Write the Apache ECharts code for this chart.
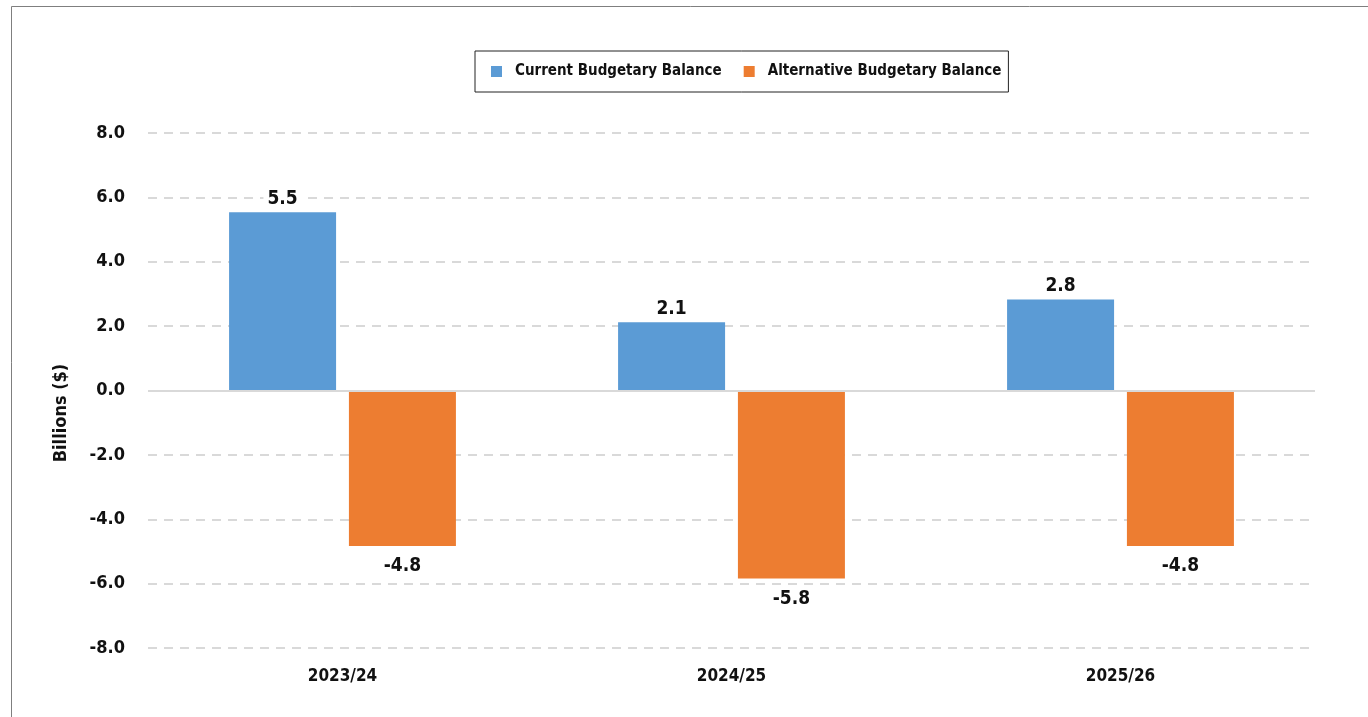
<!DOCTYPE html>
<html>
<head>
<meta charset="utf-8">
<script src="https://cdn.jsdelivr.net/npm/echarts@6/dist/echarts.min.js"></script>
<style>
  html, body { margin: 0; padding: 0; background: #fff; }
  #chart { width: 1368px; height: 717px; }
</style>
</head>
<body>
<div id="chart"></div>
<script>
const categories = ["2023/24", "2024/25", "2025/26"];
const currentBalance = [5.54, 2.12, 2.83];
const alternativeBalance = [-4.83, -5.84, -4.83];
const seriesNames = ["Current Budgetary Balance", "Alternative Budgetary Balance"];

const font = "'Liberation Sans Narrow', 'DejaVu Sans Condensed', sans-serif";

const chart = echarts.init(document.getElementById("chart"));

const labelStyle = {
  show: true,
  fontFamily: font,
  fontWeight: "bold",
  fontSize: 19,
  color: "#111",
  backgroundColor: "#fff",
  padding: [2, 4],
  formatter: (p) => p.value.toFixed(1),
};

chart.setOption({
  animation: false,
  textStyle: { fontFamily: font },
  graphic: [
    {
      type: "rect",
      shape: { x: 11.5, y: 6.5, width: 1400, height: 800 },
      style: { fill: "none", stroke: "#7f7f7f", lineWidth: 1 },
      silent: true,
    },
  ],
  legend: {
    top: 51,
    left: 475,
    data: seriesNames,
    icon: "rect",
    itemWidth: 11,
    itemHeight: 11,
    itemGap: 22,
    borderColor: "#222",
    borderWidth: 1,
    padding: [13, 7, 13, 16],
    textStyle: {
      fontFamily: font,
      fontWeight: "bold",
      fontSize: 15,
      color: "#111",
      padding: [0, 0, 0, 8],
    },
  },
  grid: { left: 148, right: 53, top: 133, bottom: 69 },
  xAxis: {
    type: "category",
    data: categories,
    axisLine: { show: false },
    axisTick: { show: false },
    axisLabel: {
      fontFamily: font,
      fontWeight: "bold",
      fontSize: 17,
      color: "#111",
      margin: 20,
    },
  },
  yAxis: {
    type: "value",
    min: -8,
    max: 8,
    interval: 2,
    name: "Billions ($)",
    nameLocation: "middle",
    nameGap: 78,
    nameTextStyle: {
      fontFamily: font,
      fontWeight: "bold",
      fontSize: 18,
      color: "#111",
      padding: [0, 0, 0, -45],
    },
    axisLine: { show: false },
    axisTick: { show: false },
    axisLabel: {
      fontFamily: font,
      fontWeight: "bold",
      fontSize: 18,
      color: "#111",
      margin: 23,
      formatter: (v) => v.toFixed(1),
    },
    splitLine: {
      lineStyle: { color: "#d9d9d9", width: 2, type: [9, 7] },
    },
  },
  series: [
    {
      name: seriesNames[0],
      type: "bar",
      data: currentBalance,
      barWidth: 107,
      barGap: "12%",
      itemStyle: { color: "#5b9bd5" },
      label: Object.assign({}, labelStyle, { position: "top", distance: 2 }),
      markLine: {
        silent: true,
        symbol: "none",
        label: { show: false },
        lineStyle: { color: "#d9d9d9", width: 2, type: "solid" },
        data: [{ yAxis: 0 }],
      },
    },
    {
      name: seriesNames[1],
      type: "bar",
      data: alternativeBalance,
      barWidth: 107,
      itemStyle: { color: "#ed7d31" },
      label: Object.assign({}, labelStyle, { position: "bottom", distance: 9 }),
    },
  ],
});
</script>
</body>
</html>
